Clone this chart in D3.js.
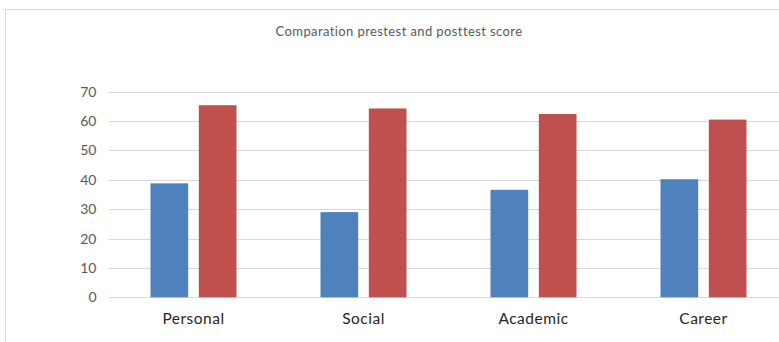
<!DOCTYPE html>
<html>
<head>
<meta charset="utf-8">
<script src="https://cdn.jsdelivr.net/npm/d3@7"></script>
<style>
  html, body { margin: 0; padding: 0; background: #fff; overflow: hidden; }
  svg { display: block; }
</style>
</head>
<body>
<svg id="chart" width="779" height="342"></svg>
<script>
// Scores per guidance area
const categories = ["Personal", "Social", "Academic", "Career"];
const pretest = [38.8, 29.0, 36.6, 40.2];
const posttest = [65.4, 64.3, 62.4, 60.5];
const yTicks = [0, 10, 20, 30, 40, 50, 60, 70];
const seriesNames = ["Pretest", "Posttest"];
const seriesColors = ["#4f81bd", "#c0504d"];
const chartTitle = "Comparation prestest and posttest score";

const svg = d3.select("#chart");
const font = "Lato, 'Open Sans', sans-serif";

// Chart frame (extends past the right and bottom edges of the window)
svg.append("rect")
  .attr("x", 5.5).attr("y", 9.5)
  .attr("width", 800).attr("height", 400)
  .attr("fill", "#fff")
  .attr("stroke", "#d9d9d9").attr("stroke-width", 1);

const plot = { left: 108.5, right: 788.5, top: 91.7, bottom: 297.3 };

const x0 = d3.scaleBand()
  .domain(categories)
  .range([plot.left, plot.right])
  .paddingInner(0)
  .paddingOuter(0);

const x1 = d3.scaleBand()
  .domain(seriesNames)
  .range([42, x0.bandwidth() - 42])
  .paddingInner(0.22);

const y = d3.scaleLinear()
  .domain([0, 70])
  .range([plot.bottom, plot.top]);

// Horizontal gridlines
svg.append("g")
  .selectAll("line")
  .data(yTicks)
  .join("line")
  .attr("x1", plot.left).attr("x2", plot.right)
  .attr("y1", d => Math.round(y(d)) + 0.5)
  .attr("y2", d => Math.round(y(d)) + 0.5)
  .attr("stroke", "#d9d9d9").attr("stroke-width", 1);

// Y axis labels
const yAxis = d3.axisLeft(y).tickValues(yTicks).tickSize(0).tickPadding(0);
const yg = svg.append("g")
  .attr("transform", `translate(${plot.left - 12},0)`)
  .call(yAxis);
yg.select(".domain").remove();
yg.selectAll("text")
  .attr("fill", "#595959")
  .style("font-family", font)
  .style("font-size", "14px");

// Bars
const rows = categories.map((c, i) => ({ cat: c, values: [pretest[i], posttest[i]] }));
const groups = svg.append("g")
  .selectAll("g")
  .data(rows)
  .join("g")
  .attr("transform", d => `translate(${x0(d.cat)},0)`);

groups.selectAll("rect")
  .data(d => d.values.map((v, j) => ({ v, j })))
  .join("rect")
  .attr("x", d => x1(seriesNames[d.j]))
  .attr("width", x1.bandwidth())
  .attr("y", d => y(d.v))
  .attr("height", d => y(0) - y(d.v))
  .attr("fill", d => seriesColors[d.j]);

// Category labels
const xAxis = d3.axisBottom(x0).tickSize(0).tickPadding(0);
const xg = svg.append("g")
  .attr("transform", `translate(0,${plot.bottom + 16})`)
  .call(xAxis);
xg.select(".domain").remove();
xg.selectAll("text")
  .attr("fill", "#262626")
  .style("font-family", font)
  .style("font-size", "15.5px")
  .style("letter-spacing", "0.5px");

// Title
svg.append("text")
  .attr("x", 399).attr("y", 36)
  .attr("text-anchor", "middle")
  .attr("fill", "#595959")
  .style("font-family", font)
  .style("font-size", "13px")
  .style("letter-spacing", "0.4px")
  .text(chartTitle);
</script>
</body>
</html>
